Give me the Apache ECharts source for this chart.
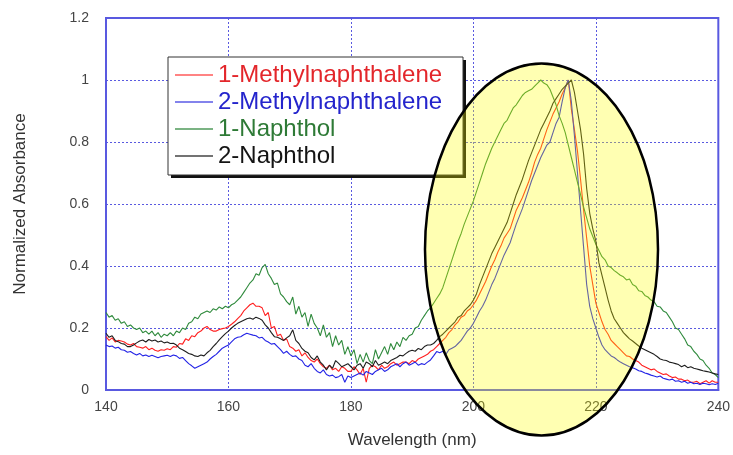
<!DOCTYPE html>
<html>
<head>
<meta charset="utf-8">
<script src="https://cdn.jsdelivr.net/npm/echarts@6/dist/echarts.min.js"></script>
<style>
  html, body { margin: 0; padding: 0; background: #fff; }
  #chart { width: 733px; height: 455px; }
</style>
</head>
<body>
<div id="chart"></div>
<script>
// Wavelength grid (nm): 140 to 240 in 0.5 nm steps
const WL_START = 140;
const WL_STEP = 0.5;
const WL_COUNT = 201;

const xTicks = [140, 160, 180, 200, 220, 240];
const yTicks = [0, 0.2, 0.4, 0.6, 0.8, 1, 1.2];

const seriesNames = ['1-Methylnaphthalene', '2-Methylnaphthalene', '1-Naphthol', '2-Naphthol'];

// Normalized absorbance, one value per grid point
const methylnaphthalene1 = [
  0.172,0.16,0.168,0.155,0.16,0.158,0.155,0.148,0.145,0.15,0.14,0.138,0.135,0.14,0.13,0.135,0.128,0.125,0.13,0.128,
  0.133,0.13,0.14,0.138,0.15,0.148,0.165,0.16,0.175,0.172,0.185,0.19,0.2,0.205,0.195,0.19,0.19,0.195,0.198,0.2,
  0.205,0.212,0.22,0.23,0.24,0.255,0.265,0.275,0.28,0.27,0.27,0.265,0.24,0.25,0.2,0.205,0.175,0.18,0.16,0.165,
  0.14,0.135,0.125,0.13,0.11,0.12,0.105,0.095,0.09,0.1,0.085,0.075,0.07,0.08,0.065,0.07,0.06,0.075,0.07,0.06,
  0.06,0.075,0.065,0.05,0.07,0.025,0.07,0.08,0.075,0.065,0.08,0.07,0.075,0.085,0.09,0.08,0.085,0.09,0.09,0.085,
  0.095,0.09,0.1,0.105,0.11,0.115,0.125,0.13,0.14,0.15,0.16,0.17,0.185,0.195,0.21,0.22,0.235,0.24,0.255,0.262,
  0.275,0.29,0.31,0.33,0.35,0.375,0.4,0.42,0.445,0.465,0.49,0.505,0.52,0.55,0.58,0.6,0.62,0.645,0.67,0.7,
  0.735,0.76,0.78,0.81,0.84,0.865,0.89,0.91,0.93,0.955,0.975,1.0,0.905,0.84,0.77,0.68,0.58,0.49,0.4,0.34,
  0.28,0.25,0.22,0.195,0.18,0.16,0.15,0.14,0.13,0.12,0.11,0.108,0.1,0.095,0.09,0.08,0.075,0.07,0.065,0.068,
  0.06,0.055,0.05,0.052,0.045,0.04,0.042,0.035,0.035,0.03,0.032,0.025,0.025,0.028,0.02,0.025,0.03,0.022,0.03,0.025,0.025
];

const methylnaphthalene2 = [
  0.145,0.14,0.142,0.135,0.138,0.13,0.128,0.122,0.124,0.118,0.113,0.118,0.11,0.113,0.108,0.112,0.108,0.104,0.108,0.11,
  0.112,0.108,0.113,0.11,0.102,0.105,0.095,0.085,0.078,0.07,0.075,0.08,0.085,0.09,0.1,0.108,0.115,0.125,0.135,0.14,
  0.145,0.155,0.165,0.17,0.172,0.178,0.183,0.18,0.177,0.175,0.168,0.17,0.16,0.155,0.148,0.15,0.14,0.13,0.118,0.125,
  0.115,0.108,0.11,0.1,0.095,0.08,0.075,0.085,0.07,0.06,0.055,0.065,0.05,0.045,0.048,0.04,0.043,0.05,0.025,0.045,
  0.04,0.045,0.05,0.055,0.048,0.06,0.055,0.05,0.06,0.065,0.07,0.06,0.065,0.075,0.08,0.085,0.075,0.085,0.09,0.08,
  0.085,0.09,0.08,0.085,0.082,0.09,0.097,0.11,0.124,0.12,0.125,0.115,0.13,0.135,0.14,0.15,0.16,0.175,0.19,0.2,
  0.215,0.235,0.255,0.27,0.29,0.315,0.34,0.36,0.385,0.41,0.435,0.455,0.475,0.505,0.535,0.56,0.585,0.615,0.645,0.675,
  0.7,0.725,0.75,0.77,0.79,0.8,0.83,0.86,0.88,0.93,0.975,1.0,0.93,0.82,0.7,0.58,0.46,0.34,0.27,0.23,
  0.2,0.17,0.145,0.13,0.12,0.11,0.105,0.097,0.09,0.085,0.08,0.075,0.072,0.068,0.062,0.06,0.055,0.052,0.048,0.045,
  0.042,0.045,0.038,0.035,0.032,0.035,0.028,0.03,0.025,0.028,0.022,0.025,0.02,0.022,0.018,0.022,0.02,0.017,0.02,0.018,0.022
];

const naphthol1 = [
  0.25,0.235,0.24,0.225,0.23,0.215,0.22,0.205,0.21,0.2,0.195,0.2,0.185,0.19,0.18,0.19,0.175,0.185,0.17,0.18,
  0.175,0.185,0.175,0.19,0.185,0.2,0.195,0.215,0.22,0.235,0.23,0.245,0.25,0.255,0.25,0.262,0.258,0.268,0.262,0.27,
  0.265,0.275,0.28,0.29,0.3,0.315,0.33,0.345,0.355,0.375,0.37,0.395,0.405,0.375,0.36,0.34,0.345,0.31,0.3,0.285,
  0.275,0.3,0.245,0.27,0.235,0.25,0.205,0.245,0.215,0.2,0.175,0.21,0.17,0.185,0.14,0.175,0.145,0.16,0.115,0.14,
  0.11,0.13,0.085,0.115,0.09,0.12,0.095,0.085,0.13,0.1,0.12,0.14,0.115,0.15,0.13,0.155,0.14,0.17,0.16,0.175,
  0.18,0.2,0.205,0.225,0.24,0.255,0.265,0.28,0.295,0.31,0.33,0.36,0.39,0.42,0.45,0.48,0.505,0.535,0.56,0.585,
  0.61,0.64,0.67,0.7,0.73,0.755,0.78,0.8,0.82,0.84,0.86,0.87,0.89,0.91,0.92,0.935,0.95,0.96,0.965,0.97,
  0.98,0.99,1.0,0.99,0.985,0.97,0.945,0.92,0.885,0.86,0.83,0.79,0.75,0.71,0.67,0.63,0.59,0.555,0.52,0.495,
  0.47,0.45,0.43,0.42,0.4,0.395,0.385,0.378,0.37,0.365,0.355,0.358,0.34,0.335,0.32,0.318,0.305,0.3,0.29,0.285,
  0.27,0.268,0.255,0.25,0.235,0.22,0.2,0.195,0.18,0.165,0.145,0.14,0.125,0.115,0.1,0.095,0.08,0.07,0.055,0.05,0.04
];

const naphthol2 = [
  0.183,0.17,0.175,0.16,0.156,0.15,0.148,0.14,0.14,0.145,0.152,0.158,0.161,0.155,0.163,0.158,0.161,0.155,0.158,0.152,
  0.155,0.15,0.151,0.145,0.135,0.13,0.124,0.118,0.115,0.11,0.108,0.113,0.11,0.12,0.128,0.14,0.15,0.162,0.172,0.182,
  0.19,0.2,0.208,0.215,0.22,0.225,0.23,0.232,0.228,0.235,0.231,0.225,0.21,0.2,0.185,0.172,0.17,0.165,0.16,0.168,
  0.175,0.194,0.16,0.15,0.134,0.125,0.12,0.105,0.097,0.11,0.09,0.08,0.065,0.08,0.07,0.095,0.086,0.075,0.08,0.085,
  0.075,0.065,0.08,0.085,0.07,0.09,0.085,0.075,0.095,0.08,0.085,0.09,0.085,0.095,0.1,0.105,0.112,0.11,0.118,0.125,
  0.128,0.125,0.134,0.13,0.14,0.145,0.145,0.15,0.16,0.172,0.18,0.19,0.2,0.21,0.22,0.235,0.24,0.255,0.265,0.275,
  0.29,0.31,0.34,0.365,0.39,0.415,0.44,0.46,0.48,0.5,0.52,0.54,0.57,0.6,0.63,0.655,0.68,0.71,0.74,0.765,
  0.79,0.815,0.84,0.86,0.88,0.9,0.925,0.94,0.955,0.97,0.98,0.99,1.0,0.96,0.9,0.84,0.76,0.65,0.57,0.52,
  0.48,0.41,0.37,0.33,0.29,0.255,0.23,0.215,0.2,0.185,0.175,0.165,0.158,0.15,0.142,0.135,0.13,0.125,0.12,0.115,
  0.108,0.1,0.097,0.095,0.09,0.088,0.085,0.082,0.075,0.08,0.072,0.075,0.07,0.068,0.065,0.062,0.06,0.058,0.055,0.052,0.05
];

const seriesValues = [methylnaphthalene1, methylnaphthalene2, naphthol1, naphthol2];
const lineColors = ['#ff1f1f', '#2323e6', '#2f8a3c', '#1e1e1e'];
const legendLineColors = ['#ff5a5a', '#5a5ae6', '#4f9a5a', '#444444'];
const legendTextColors = ['#e3262b', '#2424cc', '#2e7a36', '#141414'];

const wavelengths = [];
for (let i = 0; i < WL_COUNT; i++) wavelengths.push(WL_START + i * WL_STEP);

const FONT = 'Liberation Sans';
const AXIS_BLUE = '#5959e0';

const chart = echarts.init(document.getElementById('chart'), null, { renderer: 'canvas' });

const option = {
  animation: false,
  backgroundColor: '#ffffff',
  grid: {
    left: 106, right: 14, top: 18, bottom: 65,
    show: true, borderColor: AXIS_BLUE, borderWidth: 2, backgroundColor: 'transparent'
  },
  xAxis: {
    type: 'value',
    min: xTicks[0], max: xTicks[xTicks.length - 1], interval: 20,
    name: 'Wavelength (nm)', nameLocation: 'middle', nameGap: 42,
    nameTextStyle: { fontFamily: FONT, fontSize: 17, color: '#333' },
    axisLine: { show: true, lineStyle: { color: AXIS_BLUE, width: 2 } },
    axisTick: { show: false },
    axisLabel: { fontFamily: FONT, fontSize: 14, color: '#444', margin: 10 },
    splitLine: { show: true, lineStyle: { color: AXIS_BLUE, type: [2, 2], width: 1 } }
  },
  yAxis: {
    type: 'value',
    min: yTicks[0], max: yTicks[yTicks.length - 1], interval: 0.2,
    name: 'Normalized Absorbance', nameLocation: 'middle', nameGap: 77, nameRotate: 90,
    nameTextStyle: { fontFamily: FONT, fontSize: 17, color: '#333' },
    axisLine: { show: true, lineStyle: { color: AXIS_BLUE, width: 2 } },
    axisTick: { show: false },
    axisLabel: { fontFamily: FONT, fontSize: 14, color: '#444', margin: 17 },
    splitLine: { show: true, lineStyle: { color: AXIS_BLUE, type: [2, 2], width: 1 } }
  },
  legend: {
    orient: 'vertical',
    left: 175, top: 63,
    icon: 'rect',
    itemWidth: 38, itemHeight: 1.5, itemGap: 3,
    padding: 0,
    z: 10,
    textStyle: { fontFamily: FONT, fontSize: 24 },
    data: seriesNames.map((n, i) => ({
      name: n,
      itemStyle: { color: legendLineColors[i] },
      textStyle: { color: legendTextColors[i] }
    }))
  },
  graphic: [
    // legend frame with drop shadow
    { type: 'rect', z: 8, shape: { x: 171, y: 60, width: 295, height: 118 }, style: { fill: '#111' } },
    { type: 'rect', z: 9, shape: { x: 168, y: 57, width: 295, height: 118 },
      style: { fill: '#fff', stroke: '#333', lineWidth: 1 } },
    // highlight around the main absorption band
    { type: 'ellipse', z: 50, shape: { cx: 541.5, cy: 249.5, rx: 116.5, ry: 186 },
      style: { fill: 'rgba(255,255,0,0.3)', stroke: '#000', lineWidth: 2.5 } }
  ],
  series: seriesNames.map((n, i) => ({
    name: n,
    type: 'line',
    symbol: 'none',
    z: 2,
    color: lineColors[i],
    lineStyle: { color: lineColors[i], width: 1.1 },
    data: wavelengths.map((w, k) => [w, seriesValues[i][k]])
  }))
};

chart.setOption(option);
</script>
</body>
</html>
